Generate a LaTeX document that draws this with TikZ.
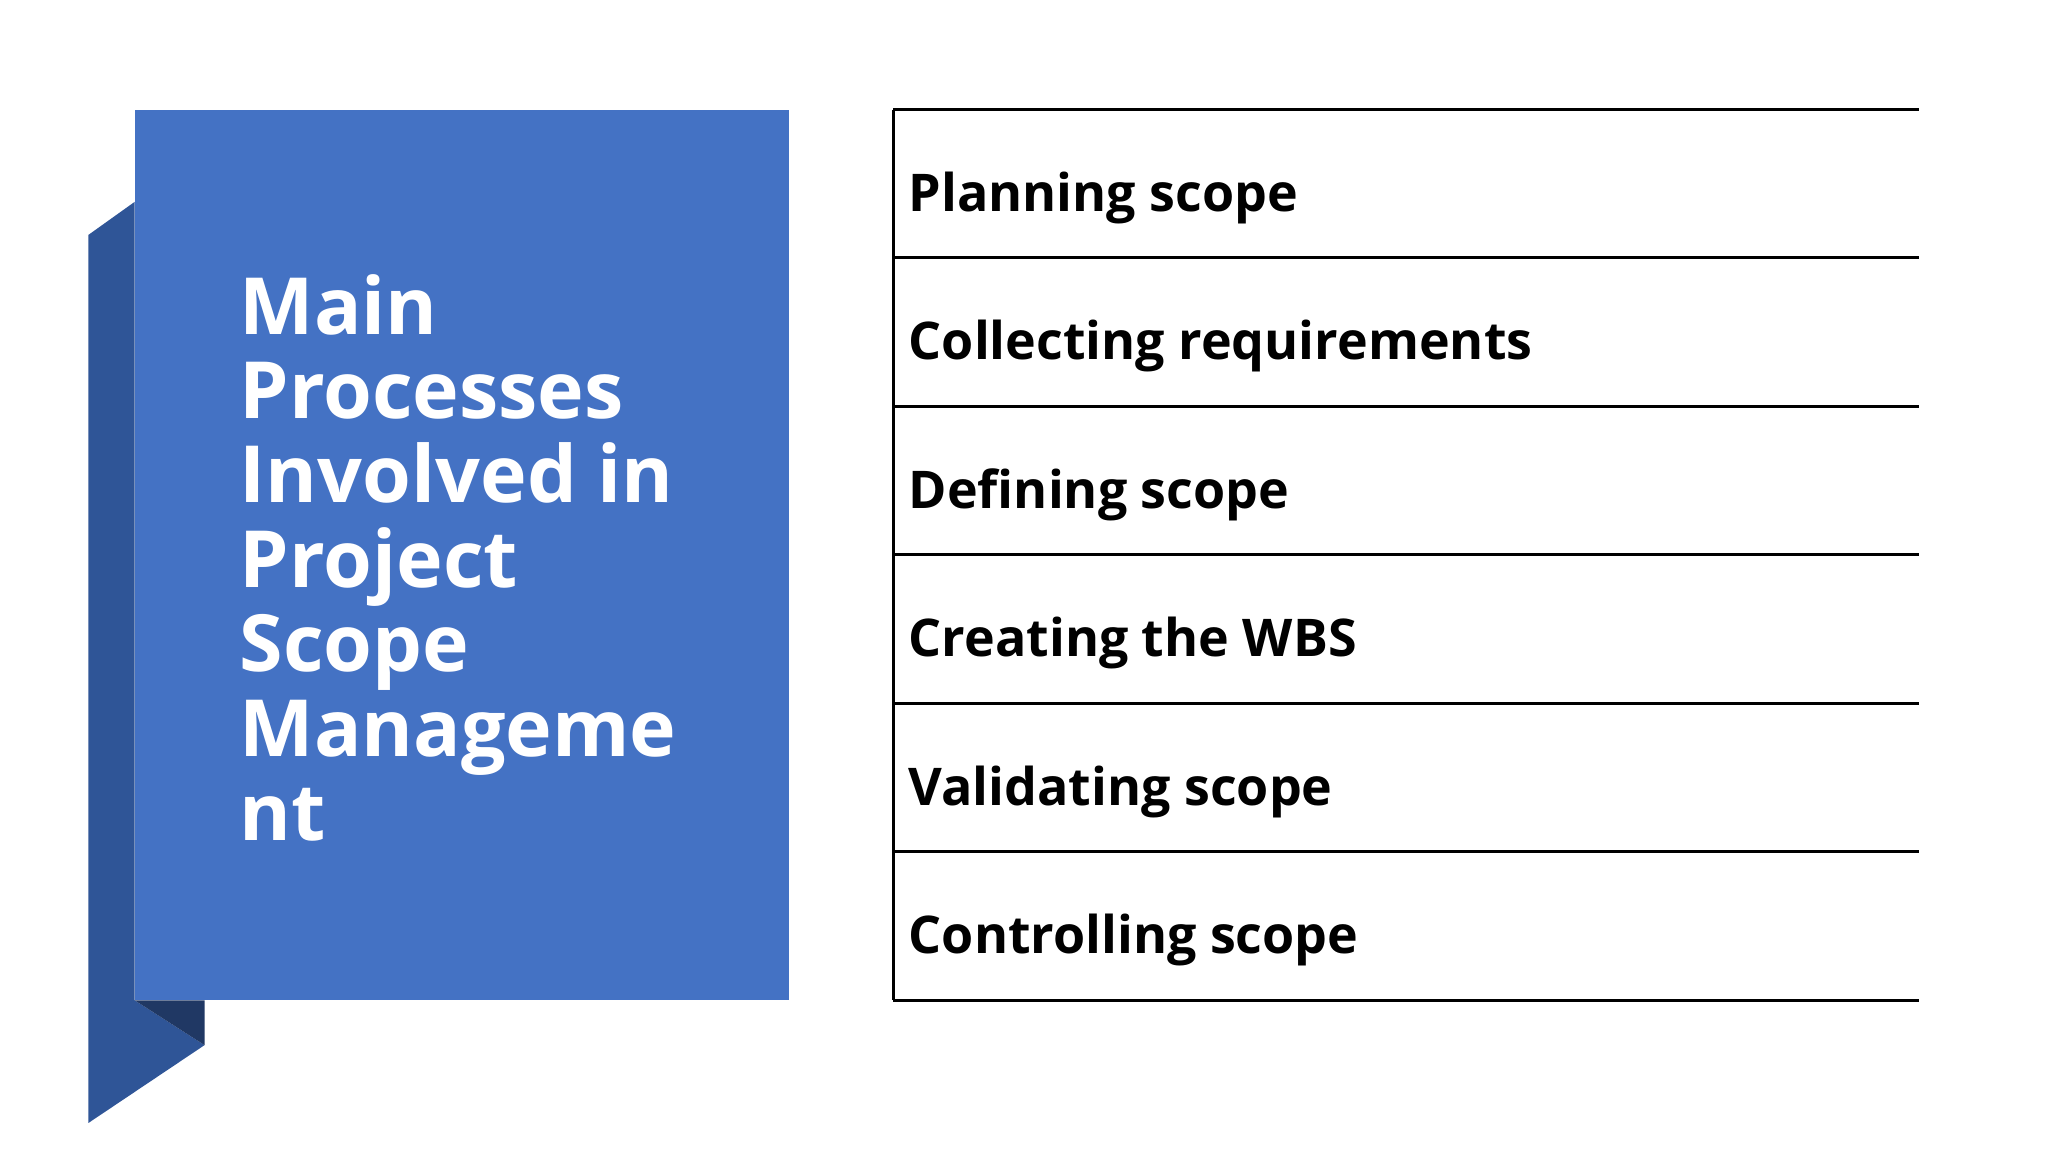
\documentclass[tikz,border=0pt]{standalone}
\usepackage{fontspec}
\setmainfont{Open Sans}
\definecolor{mainblue}{HTML}{4472C4}
\definecolor{foldblue}{HTML}{2F5597}
\definecolor{darkfold}{HTML}{203864}
\begin{document}
\begin{tikzpicture}[x=0.01cm,y=-0.01cm,
  item/.style={anchor=west,font=\bfseries\fontsize{11.2}{13}\selectfont,inner sep=0pt},
  rule/.style={draw=black,line width=0.6pt}]
\useasboundingbox (0,0) rectangle (1552,873);
% fold
\fill[foldblue] (67,178) -- (102,153) -- (102,758) -- (155,792) -- (67,851) -- cycle;
\fill[darkfold] (102,758) -- (155,758) -- (155,792) -- cycle;
\fill[mainblue] (102,83) rectangle (598,758);
\node[anchor=north west,inner sep=0pt,align=left,text=white,
  font=\bfseries\fontsize{17}{18.2}\selectfont] (title) at (181,207)
  {Main\\Processes\\Involved in\\Project\\Scope\\Manageme\\nt};
% list
\coordinate (l0) at (677,83);
\coordinate (l6) at (677,758);
\draw[rule] (l0) -- (l6);
\foreach \y in {83,195,308,420,533,645,758}{\draw[rule] (677,\y) -- (1454,\y);}
\node[item] (i1) at (688,150) {Planning scope};
\node[item] (i2) at (688,262) {Collecting requirements};
\node[item] (i3) at (688,375) {Defining scope};
\node[item] (i4) at (688,487) {Creating the WBS};
\node[item] (i5) at (688,600) {Validating scope};
\node[item] (i6) at (688,712) {Controlling scope};
\end{tikzpicture}
\end{document}
